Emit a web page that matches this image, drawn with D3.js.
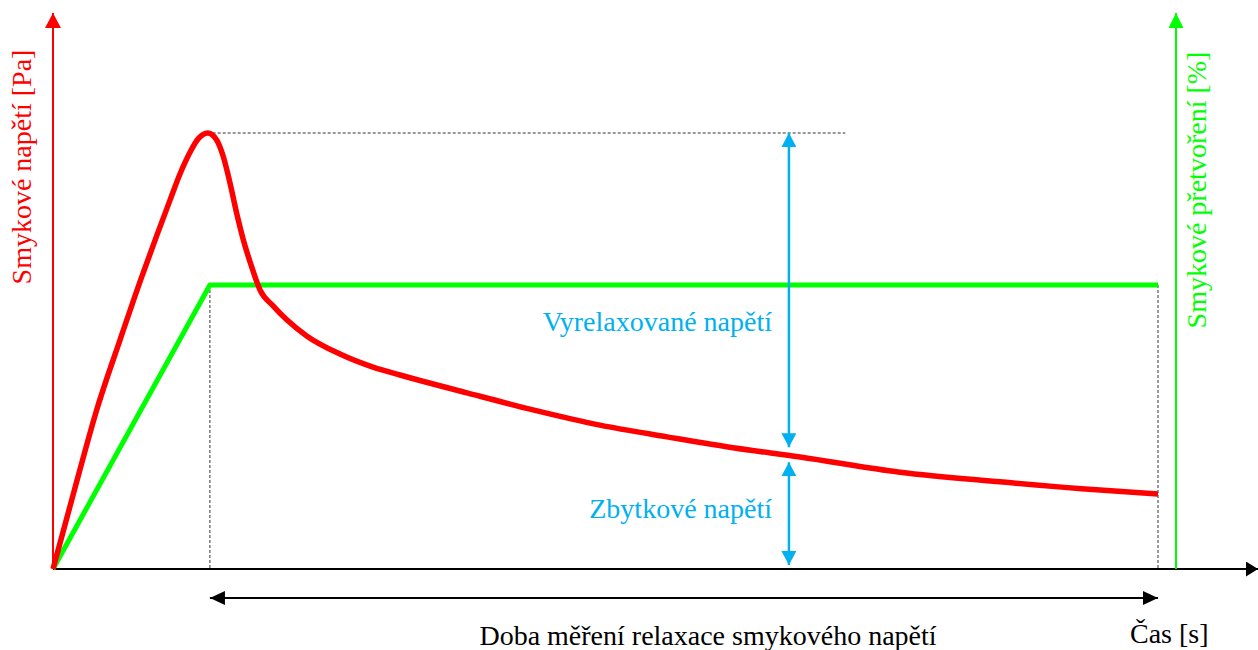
<!DOCTYPE html>
<html>
<head>
<meta charset="utf-8">
<script src="https://cdn.jsdelivr.net/npm/d3@7"></script>
</head>
<body style="margin:0">
<script>
// ---- data (time in % of measuring window, stress in % of peak, strain in % of step) ----
const stressTime  = [0, 1.99, 3.98, 6.06, 8.03, 9.38, 10.59, 11.49, 12.40, 13.15, 14.00, 14.81, 15.41, 16.02, 16.62, 17.22, 17.98, 18.73, 19.94, 21.18, 22.99, 25.97, 28.96, 31.40, 37.47, 43.44, 49.50, 55.57, 61.54, 67.60, 76.65, 85.70, 94.75, 100];
const stressValue = [0, 18.6, 36.7, 52.5, 67.0, 76.4, 84.6, 90.6, 95.6, 98.7, 100, 98.4, 94.6, 88.5, 81.6, 75.5, 69.3, 64.0, 60.3, 57.1, 53.4, 49.3, 46.3, 44.5, 40.4, 36.5, 33.0, 30.3, 27.8, 25.7, 22.2, 20.0, 18.1, 17.2];
const strainTime  = [0, 14.2, 100];
const strainValue = [0, 100, 100];
const stepTime = 14.2;          // end of strain ramp / start of relaxation
const endTime = 100;            // end of measurement
const peakTime = 14.0;
const peakStress = 100;
const arrowTime = 66.6;         // where the relaxed / residual stress arrows sit
const residualStress = 26.1;    // stress at arrowTime
const peakLineEnd = 71.7;

const labels = {
  yLeft: "Smykové napětí [Pa]",
  yRight: "Smykové přetvoření [%]",
  x: "Čas [s]",
  relaxed: "Vyrelaxované napětí",
  residual: "Zbytkové napětí",
  window: "Doba měření relaxace smykového napětí"
};

// ---- layout ----
const W = 1258, H = 650;
const RED = "#ff0000", GREEN = "#00ff00", BLUE = "#00b0f0", BLACK = "#000";

const x  = d3.scaleLinear().domain([0, 100]).range([53, 1158]);
const y  = d3.scaleLinear().domain([0, 100]).range([569, 133]);   // stress
const y2 = d3.scaleLinear().domain([0, 100]).range([569, 285]);   // strain

const svg = d3.select("body").append("svg").attr("width", W).attr("height", H).style("display", "block");
const defs = svg.append("defs");

function marker(id, color, len, wid) {
  defs.append("marker")
    .attr("id", id)
    .attr("markerUnits", "userSpaceOnUse")
    .attr("viewBox", `0 0 ${len} ${wid}`)
    .attr("markerWidth", len).attr("markerHeight", wid)
    .attr("refX", len).attr("refY", wid / 2)
    .attr("orient", "auto-start-reverse")
    .append("path")
    .attr("d", `M0,0L${len},${wid / 2}L0,${wid}Z`)
    .attr("fill", color);
}
marker("aRed", RED, 15, 16);
marker("aGreen", GREEN, 15, 15);
marker("aBlack", BLACK, 12, 15);
marker("aBlackB", BLACK, 15, 14);
marker("aBlue", BLUE, 14, 15);

// ---- dashed helper lines ----
const dash = svg.append("g").attr("stroke", "#333").attr("stroke-width", 1).attr("stroke-dasharray", "3,2").attr("fill", "none");
dash.append("line").attr("x1", x(stepTime)).attr("x2", x(stepTime)).attr("y1", y2(100)).attr("y2", y(0));
dash.append("line").attr("x1", x(endTime)).attr("x2", x(endTime)).attr("y1", y2(100)).attr("y2", y(0));
dash.append("line").attr("x1", x(peakTime)).attr("x2", x(peakLineEnd)).attr("y1", y(peakStress)).attr("y2", y(peakStress));

// ---- axes ----
const xAxisEnd = x.invert(1258);
const yAxisTop = y.invert(13);
svg.append("line").attr("x1", x(0)).attr("x2", x(xAxisEnd)).attr("y1", y(0)).attr("y2", y(0))
  .attr("stroke", BLACK).attr("stroke-width", 2).attr("marker-end", "url(#aBlack)");

svg.append("line").attr("x1", x(0)).attr("x2", x(0)).attr("y1", y(0)).attr("y2", y(yAxisTop))
  .attr("stroke", RED).attr("stroke-width", 2).attr("marker-end", "url(#aRed)");

const xRightAxis = x.invert(1176);
svg.append("line").attr("x1", x(xRightAxis)).attr("x2", x(xRightAxis)).attr("y1", y(0)).attr("y2", y(yAxisTop))
  .attr("stroke", GREEN).attr("stroke-width", 2).attr("marker-end", "url(#aGreen)");

// ---- curves ----
const strainLine = d3.line().x((d, i) => x(strainTime[i])).y((d, i) => y2(strainValue[i]));
svg.append("path").datum(strainTime).attr("d", strainLine)
  .attr("fill", "none").attr("stroke", GREEN).attr("stroke-width", 5).attr("stroke-linejoin", "round");

const stressLine = d3.line().curve(d3.curveMonotoneX)
  .x((d, i) => x(stressTime[i])).y((d, i) => y(stressValue[i]));
svg.append("path").datum(stressTime).attr("d", stressLine)
  .attr("fill", "none").attr("stroke", RED).attr("stroke-width", 5.5).attr("stroke-linejoin", "round");

// ---- blue arrows ----
svg.append("line").attr("x1", x(arrowTime)).attr("x2", x(arrowTime))
  .attr("y1", y(peakStress)).attr("y2", y(residualStress) - 8)
  .attr("stroke", BLUE).attr("stroke-width", 2.5)
  .attr("marker-start", "url(#aBlue)").attr("marker-end", "url(#aBlue)");
svg.append("line").attr("x1", x(arrowTime)).attr("x2", x(arrowTime))
  .attr("y1", y(residualStress) + 7).attr("y2", y(0) - 4)
  .attr("stroke", BLUE).attr("stroke-width", 2.5)
  .attr("marker-start", "url(#aBlue)").attr("marker-end", "url(#aBlue)");

// ---- measurement window arrow ----
svg.append("line").attr("x1", x(stepTime)).attr("x2", x(endTime)).attr("y1", 598).attr("y2", 598)
  .attr("stroke", BLACK).attr("stroke-width", 2)
  .attr("marker-start", "url(#aBlackB)").attr("marker-end", "url(#aBlackB)");

// ---- texts ----
const texts = [
  { s: labels.relaxed,  x: 772,  y: 331, anchor: "end",    color: BLUE,  rot: false },
  { s: labels.residual, x: 772,  y: 518, anchor: "end",    color: BLUE,  rot: false },
  { s: labels.window,   x: 708,  y: 645, anchor: "middle", color: BLACK, rot: false },
  { s: labels.x,        x: 1130, y: 643, anchor: "start",  color: BLACK, rot: false },
  { s: labels.yLeft,    x: 31,   y: 167, anchor: "middle", color: RED,   rot: true },
  { s: labels.yRight,   x: 1206, y: 190, anchor: "middle", color: GREEN, rot: true }
];
texts.forEach(d => {
  svg.append("text")
    .style("font-family", '"Times New Roman", "Liberation Serif", Tinos', "important")
    .style("font-size", "28px", "important")
    .attr("fill", d.color)
    .attr("text-anchor", d.anchor)
    .attr("transform", `translate(${d.x},${d.y})` + (d.rot ? " rotate(-90)" : ""))
    .text(d.s);
});
</script>
</body>
</html>
